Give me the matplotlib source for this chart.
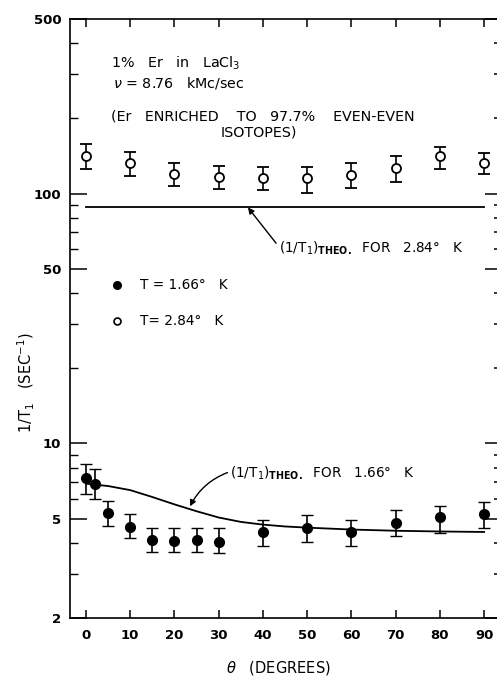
import matplotlib
matplotlib.use("Agg")
import matplotlib.pyplot as plt
from matplotlib.ticker import LogLocator, NullFormatter, FixedLocator

# ---- data ----
theta_open = [0, 10, 20, 30, 40, 50, 60, 70, 80, 90]
rate_open = [141, 132, 120, 116, 115, 115, 119, 127, 141, 133]
rate_open_hi = [158, 147, 133, 129, 128, 128, 133, 141, 154, 146]
rate_open_lo = [125, 118, 107, 104, 103, 101, 105, 111, 125, 120]

theta_filled = [0, 2, 5, 10, 15, 20, 25, 30, 40, 50, 60, 70, 80, 90]
rate_filled = [7.24, 6.9, 5.25, 4.61, 4.09, 4.06, 4.09, 4.02, 4.4, 4.57, 4.4, 4.79, 5.06, 5.2]
rate_filled_hi = [8.3, 7.87, 5.86, 5.2, 4.57, 4.57, 4.57, 4.57, 4.92, 5.15, 4.92, 5.4, 5.6, 5.8]
rate_filled_lo = [6.3, 6.0, 4.66, 4.17, 3.66, 3.66, 3.66, 3.64, 3.87, 4.02, 3.88, 4.25, 4.37, 4.57]

theory_284_theta = [0, 90]
theory_284_rate = [88, 88]

theory_166_theta = [0, 5, 10, 15, 20, 25, 30, 35, 40, 45, 50, 60, 70, 80, 90]
theory_166_rate = [6.9, 6.75, 6.5, 6.1, 5.7, 5.35, 5.05, 4.85, 4.73, 4.65, 4.6, 4.52, 4.47, 4.44, 4.42]

xticks = [0, 10, 20, 30, 40, 50, 60, 70, 80, 90]
yticks = [2, 5, 10, 50, 100, 500]
ytick_labels = ["2", "5", "10", "50", "100", "500"]

# ---- figure ----
W, H = 497, 677
fig = plt.figure(figsize=(W / 100, H / 100), dpi=100)
ax = fig.add_axes([69.5 / W, 1 - 618 / H, 1 - 69.5 / W, (618 - 19) / H])
ax.set_yscale("log")
ax.set_xlim(-3.73, 92.9)
ax.set_ylim(2, 500)

ax.spines["right"].set_visible(False)
for s in ["left", "bottom", "top"]:
    ax.spines[s].set_linewidth(1.2)

ax.xaxis.set_major_locator(FixedLocator(xticks))
ax.set_xticklabels([str(t) for t in xticks], fontsize=9.5, fontweight="bold")
ax.yaxis.set_major_locator(FixedLocator(yticks))
ax.set_yticklabels(ytick_labels, fontsize=9.5, fontweight="bold")
ax.yaxis.set_minor_locator(LogLocator(base=10, subs=(2, 3, 4, 5, 6, 7, 8, 9)))
ax.yaxis.set_minor_formatter(NullFormatter())

ax.tick_params(axis="x", which="major", direction="in", top=True, bottom=True,
               length=6, width=1.1, pad=8)
ax.tick_params(axis="y", which="major", direction="in", left=True, right=False,
               length=12, width=1.1, pad=6)
ax.tick_params(axis="y", which="minor", direction="in", left=True, right=False,
               length=6, width=1.0)

axr = ax.twinx()
axr.set_yscale("log")
axr.set_ylim(2, 500)
for s in axr.spines.values():
    s.set_visible(False)
axr.yaxis.set_major_locator(FixedLocator(yticks))
axr.yaxis.set_minor_locator(LogLocator(base=10, subs=(2, 3, 4, 5, 6, 7, 8, 9)))
axr.yaxis.set_major_formatter(NullFormatter())
axr.yaxis.set_minor_formatter(NullFormatter())
axr.tick_params(axis="y", which="major", direction="in", length=9, width=1.1)
axr.tick_params(axis="y", which="minor", direction="in", length=2.5, width=1.1)

# theory lines
ax.plot(theory_284_theta, theory_284_rate, color="black", lw=1.3)
ax.plot(theory_166_theta, theory_166_rate, color="black", lw=1.3)

# data with error bars
yerr_open = [[r - lo for r, lo in zip(rate_open, rate_open_lo)],
             [hi - r for r, hi in zip(rate_open, rate_open_hi)]]
ax.errorbar(theta_open, rate_open, yerr=yerr_open, fmt="o", mfc="white", mec="black",
            ms=6.5, mew=1.3, ecolor="black", elinewidth=1.2, capsize=4, capthick=1.2)
yerr_f = [[r - lo for r, lo in zip(rate_filled, rate_filled_lo)],
          [hi - r for r, hi in zip(rate_filled, rate_filled_hi)]]
ax.errorbar(theta_filled, rate_filled, yerr=yerr_f, fmt="o", mfc="black", mec="black",
            ms=7, mew=1, ecolor="black", elinewidth=1.2, capsize=4, capthick=1.2)

# texts
fs = 10.3
ax.text(5.65, 331, "1%   Er   in   LaCl$_3$", fontsize=fs, va="center", ha="left")
ax.text(6.0, 278, r"$\nu$ = 8.76   kMc/sec", fontsize=fs, va="center", ha="left")
ax.text(5.65, 203, "(Er   ENRICHED    TO   97.7%    EVEN-EVEN", fontsize=fs, va="center", ha="left")
ax.text(39.1, 175, "ISOTOPES)", fontsize=fs, va="center", ha="center")

ax.plot([7.0], [42.9], "o", color="black", ms=5.5)
ax.text(12.2, 42.9, "T = 1.66°   K", fontsize=9.8, va="center", ha="left")
ax.plot([7.0], [31.0], "o", mfc="white", mec="black", ms=5, mew=1.2)
ax.text(12.2, 31.0, "T= 2.84°   K", fontsize=9.8, va="center", ha="left")

ax.annotate("(1/T$_1$)$_{\\mathbf{THEO.}}$  FOR   2.84°   K", xy=(36.6, 88), xytext=(43.6, 60.3),
            fontsize=9.8, va="center", ha="left",
            arrowprops=dict(arrowstyle="-|>", color="black", lw=1.0, mutation_scale=9,
                            shrinkA=0, shrinkB=0, relpos=(0, 0.6)))
ax.annotate("(1/T$_1$)$_{\\mathbf{THEO.}}$  FOR   1.66°   K", xy=(23.5, 5.6), xytext=(32.6, 7.59),
            fontsize=9.8, va="center", ha="left",
            arrowprops=dict(arrowstyle="-|>", color="black", lw=1.0, mutation_scale=9,
                            shrinkA=0, shrinkB=0, relpos=(0, 0.6),
                            connectionstyle="arc3,rad=0.2"))

fig.text(26 / W, 1 - 383 / H, "1/T$_1$   (SEC$^{-1}$)", rotation=90, fontsize=10.5,
         va="center", ha="center")
fig.text(278 / W, 1 - 668 / H, r"$\theta$   (DEGREES)", fontsize=10.5, va="center", ha="center")

fig.savefig("out.png", dpi=100)
